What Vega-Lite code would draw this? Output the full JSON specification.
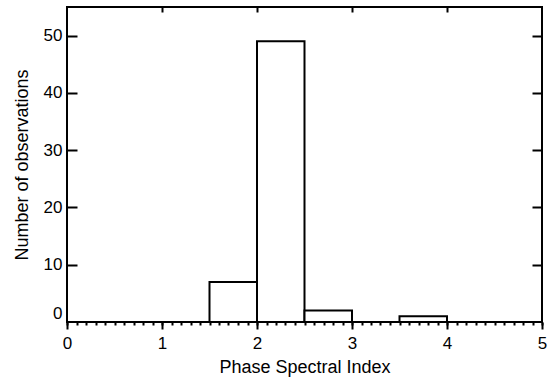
{
  "$schema": "https://vega.github.io/schema/vega-lite/v6.json",
  "width": 475,
  "height": 315,
  "autosize": {"type": "none"},
  "padding": {"left": 67, "top": 7, "right": 9, "bottom": 57},
  "background": "white",
  "config": {
    "view": {"stroke": "black", "strokeWidth": 2, "fill": null},
    "axis": {
      "domain": false,
      "grid": false,
      "tickColor": "black",
      "tickWidth": 2,
      "labelColor": "black",
      "titleColor": "black",
      "labelFont": "Liberation Sans",
      "titleFont": "Liberation Sans",
      "labelFontSize": 17,
      "titleFontSize": 18,
      "titleFontWeight": "normal"
    }
  },
  "data": {
    "values": [
      {"lo": 1.5, "hi": 2.0, "count": 7},
      {"lo": 2.0, "hi": 2.5, "count": 49},
      {"lo": 2.5, "hi": 3.0, "count": 2},
      {"lo": 3.5, "hi": 4.0, "count": 1}
    ]
  },
  "layer": [
    {
      "mark": {"type": "bar", "fill": "white", "stroke": "black", "strokeWidth": 2},
      "encoding": {
        "x": {
          "field": "lo", "type": "quantitative",
          "scale": {"domain": [0, 5], "nice": false},
          "axis": {"orient": "bottom", "values": [0, 1, 2, 3, 4, 5], "tickSize": 7, "labelPadding": 6, "labelFlush": false, "title": "Phase Spectral Index", "titlePadding": 7}
        },
        "x2": {"field": "hi"},
        "y": {
          "field": "count", "type": "quantitative",
          "scale": {"domain": [0, 55], "nice": false},
          "axis": {"orient": "left", "values": [0, 10, 20, 30, 40, 50], "ticks": false, "tickSize": 0, "labelPadding": 5, "labelFlush": true, "title": "Number of observations", "titlePadding": 12}
        },
        "y2": {"datum": 0}
      }
    },
    {
      "mark": {"type": "bar", "opacity": 0},
      "encoding": {
        "x": {
          "field": "lo", "type": "quantitative",
          "scale": {"domain": [0, 5], "nice": false},
          "axis": {"orient": "top", "values": [1, 2, 3, 4], "tickSize": 5, "offset": -5, "labels": false, "title": null, "zindex": 2}
        },
        "x2": {"field": "hi"},
        "y": {
          "field": "count", "type": "quantitative",
          "scale": {"domain": [0, 55], "nice": false},
          "axis": {"orient": "right", "values": [10, 20, 30, 40, 50], "tickSize": 10, "offset": -10, "labels": false, "title": null, "zindex": 2}
        },
        "y2": {"datum": 0}
      }
    },
    {
      "mark": {"type": "bar", "opacity": 0},
      "encoding": {
        "x": {
          "field": "lo", "type": "quantitative",
          "scale": {"domain": [0, 5], "nice": false},
          "axis": {"orient": "bottom", "values": [0, 0.1, 0.2, 0.3, 0.4, 0.5, 0.6, 0.7, 0.8, 0.9, 1, 1.1, 1.2, 1.3, 1.4, 1.5, 1.6, 1.7, 1.8, 1.9, 2, 2.1, 2.2, 2.3, 2.4, 2.5, 2.6, 2.7, 2.8, 2.9, 3, 3.1, 3.2, 3.3, 3.4, 3.5, 3.6, 3.7, 3.8, 3.9, 4, 4.1, 4.2, 4.3, 4.4, 4.5, 4.6, 4.7, 4.8, 4.9, 5], "tickSize": 3, "labels": false, "title": null}
        },
        "x2": {"field": "hi"},
        "y": {
          "field": "count", "type": "quantitative",
          "scale": {"domain": [0, 55], "nice": false},
          "axis": {"orient": "left", "values": [10, 20, 30, 40, 50], "tickSize": 10, "offset": -10, "labels": false, "title": null, "zindex": 2}
        },
        "y2": {"datum": 0}
      }
    }
  ],
  "resolve": {"scale": {"x": "independent", "y": "independent"}}
}
